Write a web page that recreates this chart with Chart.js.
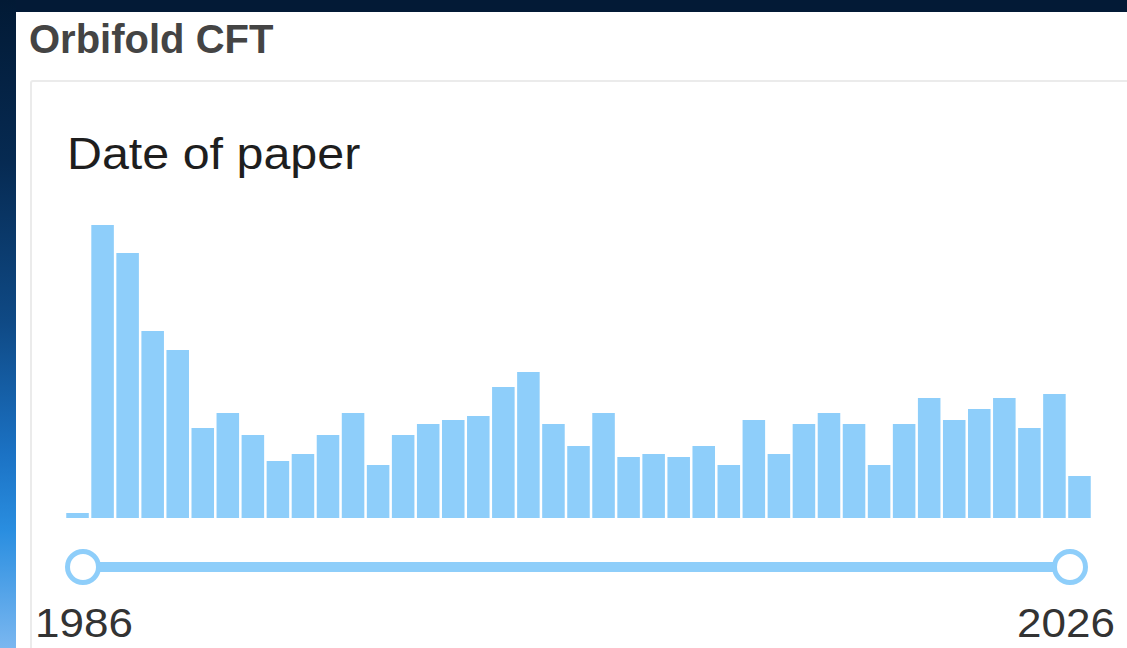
<!DOCTYPE html>
<html>
<head>
<meta charset="utf-8">
<script src="https://cdn.jsdelivr.net/npm/chart.js@4"></script>
<style>
  html, body { margin: 0; padding: 0; }
  body { width: 1127px; height: 648px; position: relative; overflow: hidden; background: #031a36; font-family: "Liberation Sans", Arial, sans-serif; }
  #leftstrip { position: absolute; left: 0; top: 0; width: 16px; height: 648px;
    background: linear-gradient(to bottom, #021a35 0%, #062a52 25%, #0f4a86 50%, #1b72c4 70%, #2a8ee0 82%, #7ab7f0 100%); }
  #panel { position: absolute; left: 16px; top: 12px; width: 1111px; height: 636px; background: #ffffff; }
  #card { position: absolute; left: 30px; top: 80px; width: 1120px; height: 600px; border: 2px solid #ebebeb; border-radius: 3px; box-sizing: border-box; }
  .txt { position: absolute; white-space: nowrap; transform-origin: 0 0; line-height: 1; }
  #title { left: 29px; top: 19px; font-size: 40px; font-weight: bold; color: #444444; }
  #sub { left: 67px; top: 132px; font-size: 44px; color: #1e1e1e; transform: scaleX(1.1); }
  #lo { left: 35px; top: 603px; font-size: 40px; color: #333333; transform: scaleX(1.1); }
  #hi { left: 1017px; top: 603px; font-size: 40px; color: #333333; transform: scaleX(1.1); }
  #track { position: absolute; left: 83px; top: 562px; width: 987px; height: 10px; background: #8ecefa; border-radius: 5px; }
  .knob { position: absolute; width: 36px; height: 36px; border-radius: 50%; background: #fff; border: 5px solid #8ecefa; box-sizing: border-box; top: 549px; }
  #k1 { left: 65px; }
  #k2 { left: 1052px; }
  #chartwrap { position: absolute; left: 65px; top: 200px; width: 1027px; height: 318px; }
</style>
</head>
<body>
<div id="leftstrip"></div>
<div id="panel"></div>
<div id="card"></div>
<div class="txt" id="title">Orbifold CFT</div>
<div class="txt" id="sub">Date of paper</div>
<div id="chartwrap"><canvas id="c" width="1027" height="318"></canvas></div>
<div id="track"></div>
<div class="knob" id="k1"></div>
<div class="knob" id="k2"></div>
<div class="txt" id="lo">1986</div>
<div class="txt" id="hi">2026</div>
<script>
const years = [];
for (let y = 1986; y <= 2026; y++) years.push(String(y));
const paperCounts = [5, 293, 265, 187, 168, 90, 105, 83, 57, 64,
                     83, 105, 53, 83, 94, 98, 102, 131, 146, 94,
                     72, 105, 61, 64, 61, 72, 53, 98, 64, 94,
                     105, 94, 53, 94, 120, 98, 109, 120, 90, 124,
                     42];
const rangeLabels = ["1986", "2026"];
document.getElementById('lo').textContent = rangeLabels[0];
document.getElementById('hi').textContent = rangeLabels[1];

new Chart(document.getElementById('c'), {
  type: 'bar',
  data: {
    labels: years,
    datasets: [{
      data: paperCounts,
      backgroundColor: '#8ecefa',
      borderWidth: 0,
      barPercentage: 0.9,
      categoryPercentage: 1.0
    }]
  },
  options: {
    responsive: false,
    animation: false,
    layout: { padding: 0 },
    plugins: { legend: { display: false }, tooltip: { enabled: false }, title: { display: false } },
    scales: {
      x: { display: false, offset: true },
      y: { display: false, min: 0, max: 318 }
    }
  }
});
</script>
</body>
</html>
